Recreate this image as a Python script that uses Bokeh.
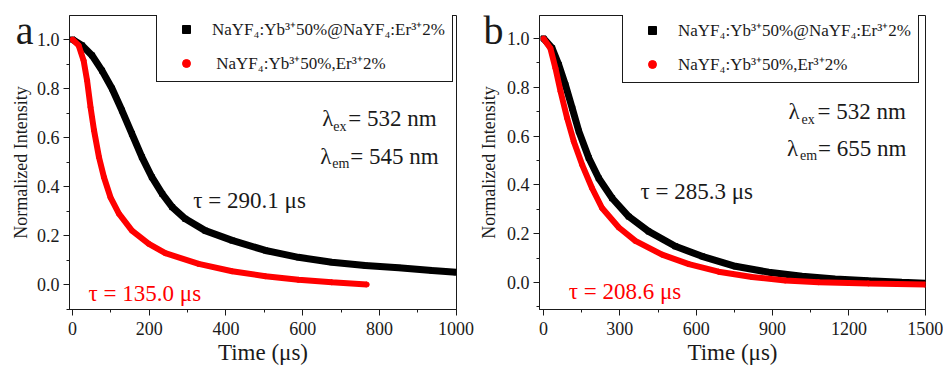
from bokeh.plotting import figure
from bokeh.layouts import row
from bokeh.models import (Range1d, SingleIntervalTicker, FixedTicker, Label, Legend, LegendItem,
                          LinearAxis, PrintfTickFormatter)
from bokeh.embed import file_html
from bokeh.resources import INLINE

# ---------------- data ----------------
# Panel a: emission 545 nm
a_cs_t = [0, 25, 51, 77, 103, 129, 155, 181, 207, 234, 260, 294, 346, 416, 503, 589, 676, 763, 850, 937, 1000]
a_cs_v = [1.0, 0.976, 0.935, 0.873, 0.80, 0.71, 0.615, 0.52, 0.438, 0.37, 0.316, 0.268, 0.22, 0.18, 0.139, 0.111, 0.091, 0.078, 0.068, 0.057, 0.05]
a_mx_t = [0, 16, 29, 38, 47, 56, 69, 82, 99, 121, 155, 199, 242, 329, 416, 503, 589, 676, 767]
a_mx_v = [1.0, 0.976, 0.914, 0.833, 0.724, 0.63, 0.52, 0.438, 0.356, 0.289, 0.22, 0.166, 0.128, 0.084, 0.054, 0.034, 0.019, 0.009, 0.0]

# Panel b: emission 655 nm
b_cs_t = [0, 34, 60, 86, 113, 139, 178, 217, 270, 335, 413, 518, 623, 754, 885, 1016, 1146, 1277, 1408, 1500]
b_cs_v = [1.0, 0.96, 0.892, 0.81, 0.714, 0.619, 0.51, 0.427, 0.345, 0.27, 0.209, 0.148, 0.107, 0.066, 0.042, 0.025, 0.014, 0.007, 0.001, -0.003]
b_mx_t = [0, 27, 47, 67, 93, 119, 152, 191, 230, 296, 361, 466, 571, 688, 819, 950, 1081, 1277, 1500]
b_mx_v = [1.0, 0.96, 0.878, 0.783, 0.673, 0.578, 0.482, 0.386, 0.305, 0.225, 0.17, 0.114, 0.075, 0.044, 0.022, 0.008, 0.001, -0.004, -0.009]

legend_labels = ["NaYF\u2084:Yb\u00b3\u207a50%@NaYF\u2084:Er\u00b3\u207a2%",
                 "NaYF\u2084:Yb\u00b3\u207a50%,Er\u00b3\u207a2%"]

SERIF = "Liberation Serif"
INK = "#1a1a1a"
RED = "#ff0000"


def make_panel(width, border_left, border_right, border_top, xr, yr, xint,
               cs_t, cs_v, mx_t, mx_v, red_label_prefix, letter, letter_y, legend_loc):
    p = figure(width=width, height=367, output_backend="svg", toolbar_location=None,
               x_range=Range1d(*xr), y_range=Range1d(*yr),
               min_border_left=border_left, min_border_right=border_right,
               min_border_top=border_top, min_border_bottom=0)
    p.xgrid.visible = False
    p.ygrid.visible = False
    p.outline_line_color = INK
    p.outline_line_alpha = 1
    p.outline_line_width = 1
    p.background_fill_color = "white"
    p.border_fill_color = "white"

    p.xaxis.ticker = SingleIntervalTicker(interval=xint, num_minor_ticks=2)
    p.yaxis.ticker = SingleIntervalTicker(interval=0.2, num_minor_ticks=2)
    p.yaxis.formatter = PrintfTickFormatter(format="%.1f")
    for ax in (p.xaxis[0], p.yaxis[0]):
        ax.major_tick_in = 0
        ax.major_tick_out = 6
        ax.minor_tick_in = 0
        ax.minor_tick_out = 3
        ax.axis_line_color = INK
        ax.major_tick_line_color = INK
        ax.minor_tick_line_color = INK
        ax.major_label_text_font = SERIF
        ax.major_label_text_font_size = "18px"
        ax.major_label_text_color = INK
        ax.axis_label_text_font = SERIF
        ax.axis_label_text_font_style = "normal"
        ax.axis_label_text_color = INK
    p.xaxis.axis_label = "Time (\u03bcs)"
    p.xaxis.axis_label_text_font_size = "23px"
    p.xaxis.major_label_standoff = 6
    p.xaxis.axis_label_standoff = 2
    p.yaxis.major_label_standoff = 4

    # outer left axis: carries the panel letter and the y axis title
    outer = LinearAxis(ticker=FixedTicker(ticks=[letter_y], minor_ticks=[]),
                       formatter=PrintfTickFormatter(format=letter),
                       axis_label="Normalized Intensity")
    outer.axis_line_color = None
    outer.major_tick_line_color = None
    outer.minor_tick_line_color = None
    outer.major_tick_in = 0
    outer.major_tick_out = 0
    outer.minor_tick_in = 0
    outer.minor_tick_out = 0
    outer.major_label_standoff = 0
    outer.major_label_text_font = SERIF
    outer.major_label_text_font_size = "40px"
    outer.major_label_text_color = INK
    outer.axis_label_text_font = SERIF
    outer.axis_label_text_font_style = "normal"
    outer.axis_label_text_font_size = "18px"
    outer.axis_label_text_color = INK
    outer.axis_label_standoff = -18
    p.add_layout(outer, "left")

    p.line(cs_t, cs_v, line_color="black", line_width=7)
    sq = p.scatter(cs_t, cs_v, marker="square", size=5, fill_color="black", line_color="black")
    p.line(mx_t, mx_v, line_color=RED, line_width=6)
    ci = p.scatter(mx_t, mx_v, marker="circle", size=5, fill_color=RED, line_color=RED)

    leg = Legend(items=[LegendItem(label=legend_labels[0], renderers=[sq]),
                        LegendItem(label=red_label_prefix + legend_labels[1], renderers=[ci])],
                 location=legend_loc, margin=0, padding=7, spacing=11,
                 glyph_width=44, glyph_height=20, label_height=20, label_standoff=4,
                 label_text_font=SERIF, label_text_font_size="17px", label_text_color=INK,
                 border_line_color=INK, border_line_width=1, border_line_alpha=1,
                 background_fill_color="white", background_fill_alpha=1)
    p.add_layout(leg)
    return p


def text(p, x, y, s, size="23px", color=INK, xo=0, yo=0):
    p.add_layout(Label(x=x, y=y, text=s, x_offset=xo, y_offset=yo,
                       text_font=SERIF, text_font_size=size, text_color=color,
                       text_baseline="alphabetic", text_align="left"))


# ---------------- panel a ----------------
pa = make_panel(474, 69, 18, 15, (-7.8, 1001), (-0.102, 1.098), 200,
                a_cs_t, a_cs_v, a_mx_t, a_mx_v, "\u00a0", "a", 1.096, (87, 227))
text(pa, 651, 0.676, "\u03bb")
text(pa, 651, 0.676, "ex", size="14px", xo=11, yo=-8)
text(pa, 651, 0.676, "= 532 nm", xo=26)
text(pa, 646, 0.522, "\u03bb")
text(pa, 646, 0.522, "em", size="14px", xo=12, yo=-7)
text(pa, 646, 0.522, "= 545 nm", xo=30)
text(pa, 315, 0.343, "\u03c4 = 290.1 \u03bcs")
text(pa, 42, -0.037, "\u03c4 = 135.0 \u03bcs", color=RED)

# ---------------- panel b ----------------
pb = make_panel(469, 65, 18, 14, (-15.7, 1501), (-0.111, 1.094), 300,
                b_cs_t, b_cs_v, b_mx_t, b_mx_v, "", "b", 1.092, (83, 226))
text(pb, 963, 0.70, "\u03bb")
text(pb, 963, 0.70, "ex", size="14px", xo=13, yo=-8)
text(pb, 963, 0.70, "= 532 nm", xo=29)
text(pb, 957, 0.55, "\u03bb")
text(pb, 957, 0.55, "em", size="14px", xo=13, yo=-7)
text(pb, 957, 0.55, "= 655 nm", xo=31)
text(pb, 381, 0.373, "\u03c4 = 285.3 \u03bcs")
text(pb, 99, -0.037, "\u03c4 = 208.6 \u03bcs", color=RED)

layout = row(pa, pb, spacing=0)
open("out.html", "w").write(file_html(layout, INLINE))
